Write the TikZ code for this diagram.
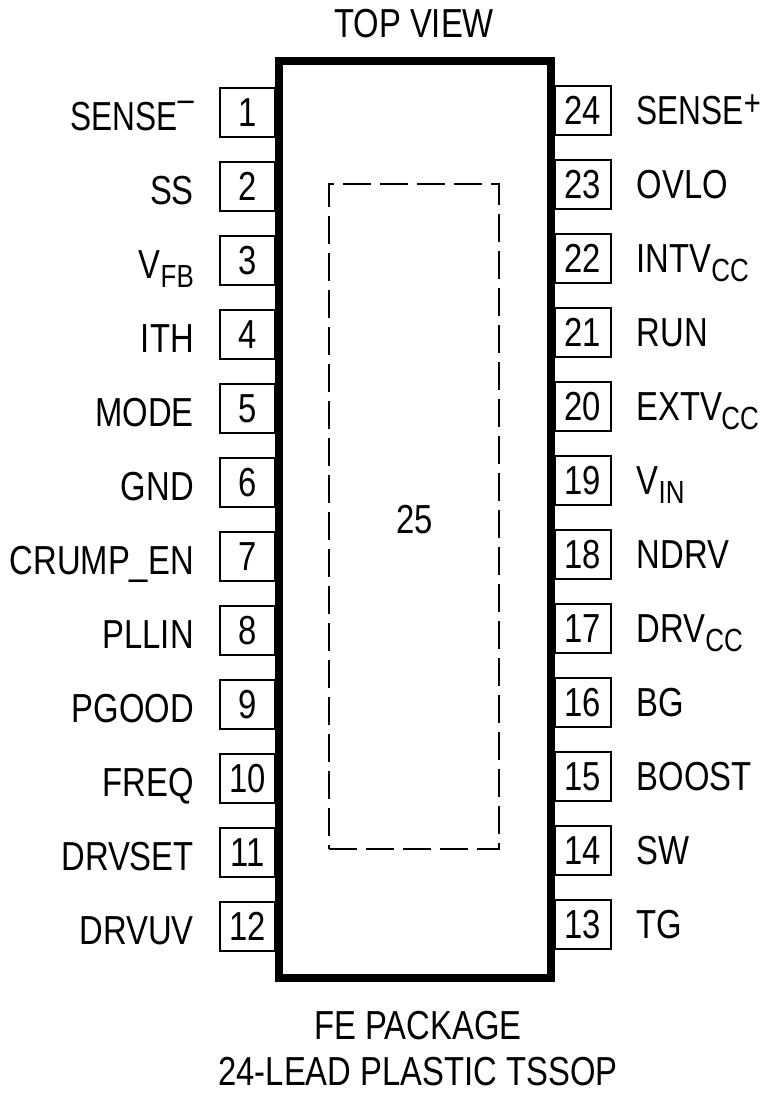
\documentclass[tikz,border=0pt]{standalone}
\usepackage{fontspec}
\setmainfont[FakeStretch=0.81]{Liberation Sans}
\usetikzlibrary{matrix}
\usetikzlibrary{positioning}
\newcommand{\pinfont}{\fontsize{40.5}{46}\selectfont}
\newcommand{\subtxt}[1]{\raisebox{-9pt}{\fontsize{32}{32}\selectfont #1}}
\newcommand{\suptxt}[2]{\raisebox{#1}{\fontsize{36}{36}\selectfont #2}}
\newcommand{\sensetxt}{{\addfontfeature{FakeStretch=0.78}SENSE}}
\tikzset{
	pinbox/.style={draw,line width=2pt,outer sep=0pt,inner sep=0pt,minimum height=49pt,anchor=center,font=\pinfont},
	pinname/.style={inner sep=0pt,outer sep=0pt,text height=28pt,text depth=0pt,font=\pinfont},
	plaintxt/.style={inner sep=0pt,font=\pinfont},
}
\begin{document}
\begin{tikzpicture}[x=1pt,y=-1pt]
	\useasboundingbox (0,0) rectangle (760,1100);
	\matrix[matrix of nodes,anchor=north east,inner sep=0pt,row sep=23pt,column sep=25pt,ampersand replacement=\&,
		column 1/.style={nodes={pinname,anchor=east,yshift=-3.5pt}},
		column 2/.style={nodes={pinbox,minimum width=55pt}}] (leftpins) at (276,87)
	{
		|(n1)| \sensetxt\suptxt{19pt}{–} \& |(p1)| 1 \\
		|(n2)| SS \& |(p2)| 2 \\
		|(n3)| V\subtxt{FB} \& |(p3)| 3 \\
		|(n4)| ITH \& |(p4)| 4 \\
		|(n5)| MODE \& |(p5)| 5 \\
		|(n6)| GND \& |(p6)| 6 \\
		|(n7)| CRUMP\_EN \& |(p7)| 7 \\
		|(n8)| PLLIN \& |(p8)| 8 \\
		|(n9)| PGOOD \& |(p9)| 9 \\
		|(n10)| FREQ \& |(p10)| 10 \\
		|(n11)| DRVSET \& |(p11)| 11 \\
		|(n12)| DRVUV \& |(p12)| 12 \\
	};
	\matrix[matrix of nodes,anchor=north west,inner sep=0pt,row sep=23pt,column sep=25pt,ampersand replacement=\&,
		column 1/.style={nodes={pinbox,minimum width=55.5pt}},
		column 2/.style={nodes={pinname,anchor=west}}] (rightpins) at (554,85)
	{
		|(p24)| 24 \& |(n24)| \sensetxt\suptxt{9.5pt}{+} \\
		|(p23)| 23 \& |(n23)| OVLO \\
		|(p22)| 22 \& |(n22)| INTV\subtxt{CC} \\
		|(p21)| 21 \& |(n21)| RUN \\
		|(p20)| 20 \& |(n20)| EXTV\kern-1pt\subtxt{CC} \\
		|(p19)| 19 \& |(n19)| V\subtxt{IN} \\
		|(p18)| 18 \& |(n18)| NDRV \\
		|(p17)| 17 \& |(n17)| DRV\subtxt{CC} \\
		|(p16)| 16 \& |(n16)| BG \\
		|(p15)| 15 \& |(n15)| BOOST \\
		|(p14)| 14 \& |(n14)| SW \\
		|(p13)| 13 \& |(n13)| TG \\
	};
	\node[draw,line width=8pt,minimum width=272pt,minimum height=917pt] (body) at (415,519.5) {};
	\node[draw,line width=2pt,dash pattern=on 28pt off 9pt,minimum width=169.5pt,minimum height=665pt] (pad) at (414,516.5) {};
	\node[plaintxt] (padnum) at (414.5,520) {25};
	\node[plaintxt,anchor=base] (topview) at (414,37) {TOP VIEW};
	\node[plaintxt,anchor=base] (pkgname) at (418,1039) {FE PACKAGE};
	\node[plaintxt,anchor=base] (pkgtype) at (418,1085) {24-LEAD PLASTIC TSSOP};
\end{tikzpicture}
\end{document}
